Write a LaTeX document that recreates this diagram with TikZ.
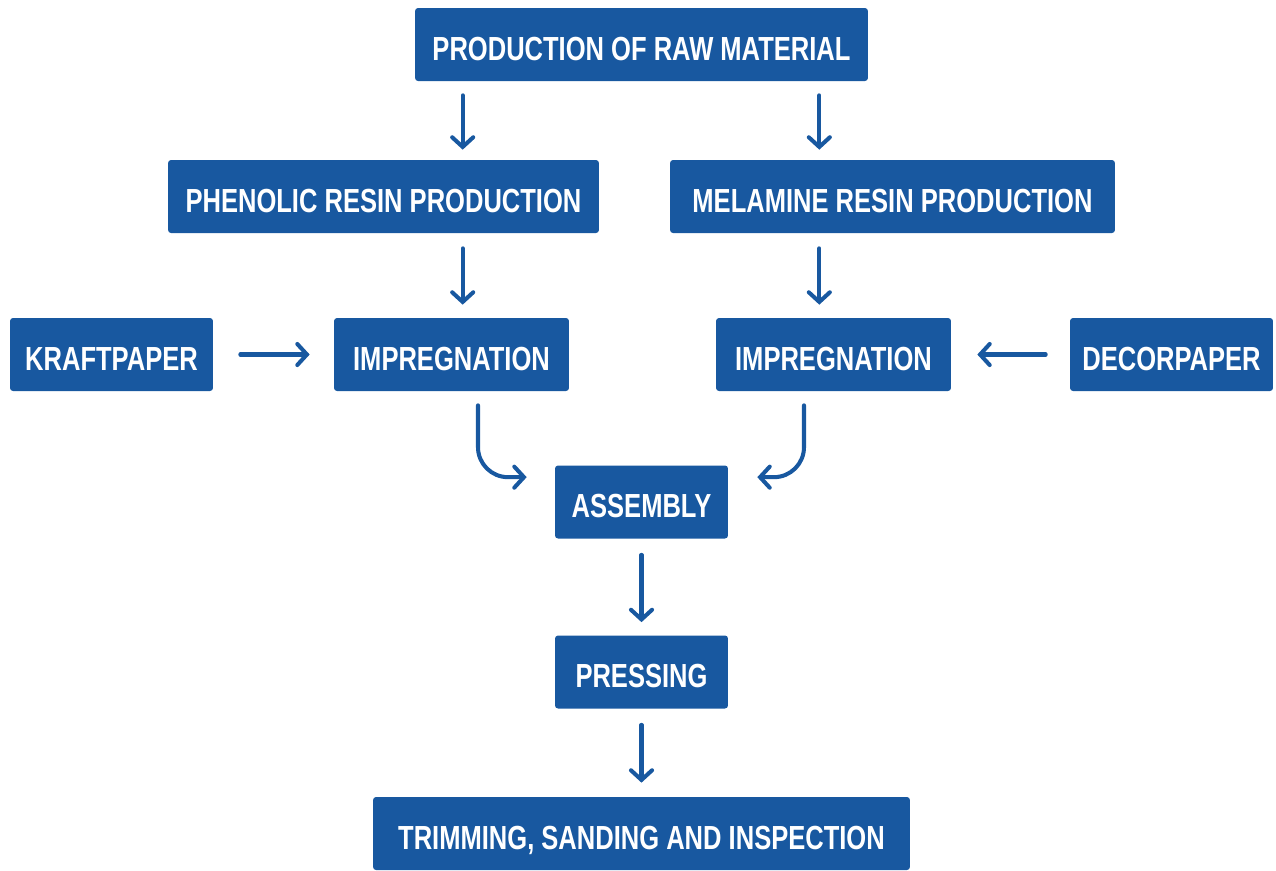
\documentclass[tikz,border=0pt]{standalone}
\usepackage{fontspec}
\setmainfont{Liberation Sans}[FakeStretch=0.765]
\usetikzlibrary{arrows.meta}
\definecolor{hplblue}{RGB}{24,88,160}
\begin{document}
\begin{tikzpicture}[x=0.02cm,y=-0.02cm,
	stage/.style={fill=hplblue, rounded corners=0.06cm, minimum height=1.46cm, text height=0.62cm, text depth=0pt, text=white, font=\fontsize{19}{22}\selectfont\bfseries, inner sep=0pt},
	flow/.style={draw=hplblue, line width=2.3pt, line cap=round, -{Straight Barb[length=5.5pt,width=12pt,line cap=round]}, shorten <=0.28cm, shorten >=0.2cm}]
				\useasboundingbox (0,0) rectangle (1276,870);
				\node[stage, minimum width=9.06cm] (raw) at (641.5,44.5) {PRODUCTION OF RAW MATERIAL};
				\node[stage, minimum width=8.62cm] (phenol) at (383.5,196.5) {PHENOLIC RESIN PRODUCTION};
				\node[stage, minimum width=8.9cm] (melam) at (892.5,196.5) {MELAMINE RESIN PRODUCTION};
				\node[stage, minimum width=4.06cm] (kraft) at (111.5,354.5) {KRAFTPAPER};
				\node[stage, minimum width=4.7cm] (impL) at (451.5,354.5) {IMPREGNATION};
				\node[stage, minimum width=4.7cm] (impR) at (833.5,354.5) {IMPREGNATION};
				\node[stage, minimum width=4.06cm] (decor) at (1171.5,354.5) {DECORPAPER};
				\node[stage, minimum width=3.46cm] (asm) at (641.5,502) {ASSEMBLY};
				\node[stage, minimum width=3.46cm] (press) at (641.5,672) {PRESSING};
				\node[stage, minimum width=10.74cm] (trim) at (641.5,833.5) {TRIMMING, SANDING AND INSPECTION};
				\coordinate (colL) at ([xshift=0.96cm]raw.south west);
				\coordinate (colR) at ([xshift=-0.98cm]raw.south east);
				\draw[flow] (colL) -- (colL |- phenol.north);
				\draw[flow] (colR) -- (colR |- melam.north);
				\draw[flow, shorten <=0.3cm, shorten >=0.26cm] (colL |- phenol.south) -- (colL |- impL.north);
				\draw[flow, shorten <=0.3cm, shorten >=0.26cm] (colR |- melam.south) -- (colR |- impR.north);
				\draw[flow, shorten <=0.54cm, shorten >=0.48cm] (kraft) -- (impL);
				\draw[flow, shorten <=0.48cm, shorten >=0.52cm] (decor) -- (impR);
				\draw[flow, rounded corners=0.6cm, shorten >=0.56cm] ([xshift=0.53cm]impL.south) |- ([yshift=-0.24cm]asm.north west);
				\draw[flow, rounded corners=0.6cm, shorten >=0.58cm] ([xshift=-0.59cm]impR.south) |- ([yshift=-0.24cm]asm.north east);
				\draw[flow, shorten <=0.32cm, shorten >=0.26cm] (asm) -- (press);
				\draw[flow, shorten <=0.32cm, shorten >=0.28cm] (press) -- (trim);
			\end{tikzpicture}
\end{document}
